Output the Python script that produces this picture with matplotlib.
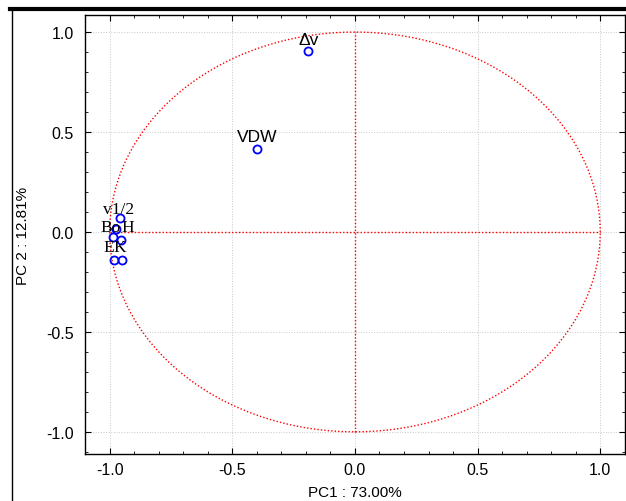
import numpy as np
import matplotlib.pyplot as plt
from matplotlib.lines import Line2D
from matplotlib.ticker import MultipleLocator

# loadings on the first two principal components
labels = ["\u0394v", "VDW", "v1/2", "Bo", "H", "E", "K", ""]
pc1 = [-0.19, -0.40, -0.957, -0.973, -0.954, -0.987, -0.948, -0.982]
pc2 = [0.905, 0.415, 0.068, 0.015, -0.038, -0.027, -0.138, -0.138]
label_dx = [0.0, 0.0, -0.008, -0.025, 0.029, -0.015, -0.009, 0.0]
label_dy = [0.06, 0.06, 0.047, 0.01, 0.063, -0.048, 0.063, 0.0]
serif_labels = ["v1/2", "Bo", "H", "E", "K"]

fig = plt.figure(figsize=(6.26, 5.02), dpi=100)
ax = fig.add_axes([0.136, 0.094, 0.862, 0.874])

# unit circle and axes cross
t = np.linspace(0, 2 * np.pi, 400)
ax.plot(np.cos(t), np.sin(t), ls=(0, (1, 1.5)), c='red', lw=1)
ax.plot([0, 0], [-1, 1], ls=(0, (1, 1.5)), c='red', lw=1)
ax.plot([-1, 1], [0, 0], ls=(0, (1, 1.5)), c='red', lw=1)

ax.plot(pc1, pc2, 'o', mfc='none', mec='blue', ms=5.8, mew=1.3)
for lab, x, y, dx, dy in zip(labels, pc1, pc2, label_dx, label_dy):
    if not lab:
        continue
    fam = 'Liberation Serif' if lab in serif_labels else 'Liberation Sans'
    ax.text(x + dx, y + dy, lab, ha='center', va='center', fontsize=12.5, family=fam)

ax.set_xlim(-1.1, 1.1)
ax.set_ylim(-1.11, 1.085)
ax.xaxis.set_major_locator(MultipleLocator(0.5))
ax.xaxis.set_minor_locator(MultipleLocator(0.1))
ax.yaxis.set_major_locator(MultipleLocator(0.5))
ax.yaxis.set_minor_locator(MultipleLocator(0.1))
ax.tick_params(which='both', direction='in', top=True, right=True, labelsize=11.5)
ax.tick_params(which='major', length=4)
ax.tick_params(which='minor', length=2)
fmt = plt.FuncFormatter(lambda v, p: f"{v:.1f}".replace("-0.0", "0.0"))
ax.xaxis.set_major_formatter(fmt)
ax.yaxis.set_major_formatter(fmt)
for lab in ax.get_xticklabels() + ax.get_yticklabels():
    lab.set_family('Liberation Sans')
ax.tick_params(axis='x', pad=6)
ax.tick_params(axis='y', pad=8)
ax.grid(True, which='major', ls=':', c='#c8c8c8', lw=0.7)
ax.set_axisbelow(True)
for s in ax.spines.values():
    s.set_linewidth(1.0)

ax.set_xlabel("PC1 : 73.00%", family='Liberation Sans', fontsize=11, labelpad=6)
ax.set_ylabel("PC 2 : 12.81%", family='Liberation Sans', fontsize=11, labelpad=12)

# outer frame lines of the original screenshot
fig.add_artist(Line2D([0.016, 1.0], [0.980, 0.980], color='black', lw=3))
fig.add_artist(Line2D([0.019, 0.019], [0.0, 0.980], color='black', lw=1))

plt.savefig('out.png', dpi=100)
